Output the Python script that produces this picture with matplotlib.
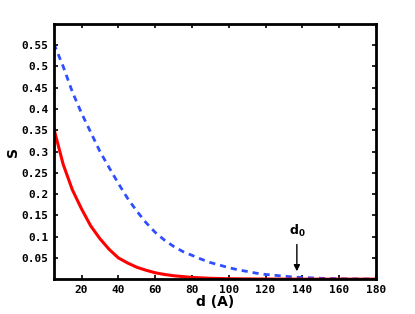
import matplotlib
matplotlib.use('Agg')
import matplotlib.pyplot as plt

# distance d (A)
d = [5, 10, 15, 20, 25, 30, 35, 40, 45, 50, 55, 60, 65, 70, 75, 80, 85, 90,
     95, 100, 105, 110, 115, 120, 125, 130, 135, 140, 145, 150, 155, 160,
     165, 170, 175, 180]

s_dashed = [0.553, 0.50, 0.44, 0.39, 0.345, 0.30, 0.262, 0.225, 0.19, 0.16,
            0.133, 0.11, 0.092, 0.077, 0.065, 0.056, 0.047, 0.039, 0.033,
            0.027, 0.022, 0.018, 0.014, 0.011, 0.009, 0.007, 0.005, 0.004,
            0.003, 0.002, 0.0015, 0.001, 0.0008, 0.0005, 0.0003, 0.0002]

s_solid = [0.353, 0.27, 0.21, 0.165, 0.125, 0.095, 0.07, 0.05, 0.038, 0.028,
           0.021, 0.015, 0.011, 0.008, 0.006, 0.004, 0.003, 0.002, 0.0015,
           0.001, 0.0008, 0.0006, 0.0004, 0.0003, 0.0002, 0.0001, 0.0001,
           0.0, 0.0, 0.0, 0.0, 0.0, 0.0, 0.0, 0.0, 0.0]

xticks = [20, 40, 60, 80, 100, 120, 140, 160, 180]
yticks = [0.05, 0.1, 0.15, 0.2, 0.25, 0.3, 0.35, 0.4, 0.45, 0.5, 0.55]
d0 = 137

fig = plt.figure(figsize=(4.15, 3.14), dpi=100)
ax = fig.add_axes([0.130, 0.111, 0.776, 0.813])

ax.plot(d, s_dashed, color='#2f4fff', lw=2.0, linestyle=(0, (2.2, 1.8)))
ax.plot(d, s_solid, color='#ff0000', lw=2.2)

ax.annotate('', xy=(d0, 0.012), xytext=(d0, 0.088),
            arrowprops=dict(arrowstyle='-|>', color='black', lw=1.0,
                            mutation_scale=9))
ax.text(d0, 0.113, r'$\mathbf{d_0}$', ha='center', va='center', fontsize=9)

ax.set_xlim(5, 180)
ax.set_ylim(0, 0.6)
ax.set_xticks(xticks)
ax.set_yticks(yticks)
ax.set_xticklabels([str(t) for t in xticks], family='DejaVu Sans Mono',
                   fontweight='bold', fontsize=8)
ax.set_yticklabels(['%g' % t for t in yticks],
                   family='DejaVu Sans Mono', fontweight='bold', fontsize=8)
ax.tick_params(direction='in', length=3, width=1.2, top=True, right=True,
               pad=4)
for sp in ax.spines.values():
    sp.set_linewidth(2.0)

ax.set_xlabel('d (A)', fontweight='bold', fontsize=10, labelpad=0)
ax.set_ylabel('S', fontweight='bold', fontsize=10, labelpad=1)

fig.savefig('out.png', dpi=100)
